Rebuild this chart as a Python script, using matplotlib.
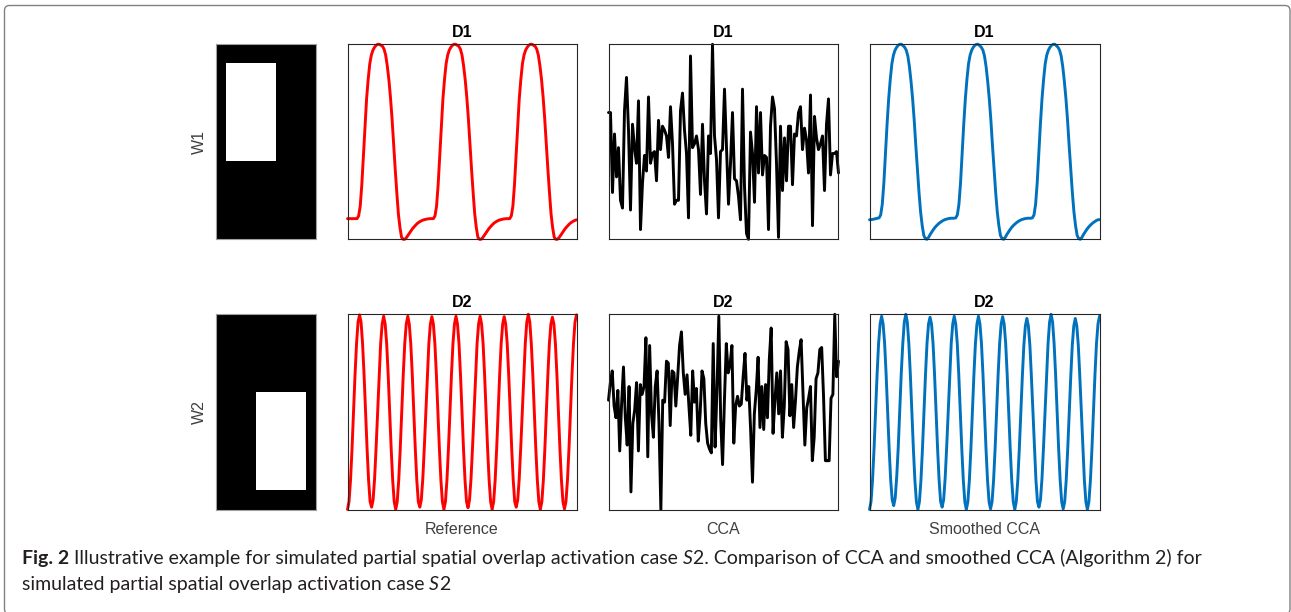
import numpy as np
import matplotlib
matplotlib.use("Agg")
import matplotlib.pyplot as plt
from matplotlib.patches import FancyBboxPatch
from matplotlib.transforms import IdentityTransform

# ---------------- data ----------------
row_titles = ["D1", "D2"]
map_labels = ["W1", "W2"]
col_labels = ["Reference", "CCA", "Smoothed CCA"]

# spatial maps: 20 x 10 grid, active block (row start, row end, col start, col end)
map_shape = (20, 10)
w1_block = (2, 12, 1, 6)
w2_block = (8, 18, 4, 9)

d1_reference = [0.106, 0.106, 0.106, 0.106, 0.106, 0.106,
    0.106, 0.12, 0.17, 0.28, 0.43, 0.58, 0.72, 0.82, 0.90, 0.945, 0.97, 0.985, 0.995, 1.00, 1.00, 0.995,
    0.99, 0.975, 0.945, 0.89, 0.82, 0.73, 0.62, 0.49, 0.36, 0.24, 0.13, 0.06, 0.01, 0.00, 0.00, 0.008,
    0.02, 0.033, 0.045, 0.056, 0.065, 0.074, 0.082, 0.088, 0.093, 0.097, 0.100, 0.102, 0.104, 0.105, 0.106, 0.106,
    0.106, 0.12, 0.17, 0.28, 0.43, 0.58, 0.72, 0.82, 0.90, 0.945, 0.97, 0.985, 0.995, 1.00, 1.00, 0.995,
    0.99, 0.975, 0.945, 0.89, 0.82, 0.73, 0.62, 0.49, 0.36, 0.24, 0.13, 0.06, 0.01, 0.00, 0.00, 0.008,
    0.02, 0.033, 0.045, 0.056, 0.065, 0.074, 0.082, 0.088, 0.093, 0.097, 0.100, 0.102, 0.104, 0.105, 0.106, 0.106,
    0.106, 0.12, 0.17, 0.28, 0.43, 0.58, 0.72, 0.82, 0.90, 0.945, 0.97, 0.985, 0.995, 1.00, 1.00, 0.995,
    0.99, 0.975, 0.945, 0.89, 0.82, 0.73, 0.62, 0.49, 0.36, 0.24, 0.13, 0.06, 0.01, 0.00, 0.00, 0.008,
    0.02, 0.033, 0.045, 0.056, 0.065, 0.074, 0.082, 0.088, 0.093, 0.097, 0.100]

d1_smoothed = [0.100, 0.101, 0.102, 0.104, 0.106, 0.108,
    0.110, 0.125, 0.18, 0.29, 0.44, 0.59, 0.72, 0.82, 0.90, 0.945, 0.97, 0.985, 0.995, 1.00, 1.00, 0.993,
    0.985, 0.97, 0.94, 0.885, 0.81, 0.72, 0.61, 0.48, 0.36, 0.24, 0.14, 0.07, 0.02, 0.003, 0.00, 0.01,
    0.025, 0.038, 0.05, 0.061, 0.07, 0.078, 0.085, 0.091, 0.096, 0.100, 0.103, 0.105, 0.107, 0.108, 0.108, 0.108,
    0.110, 0.125, 0.18, 0.29, 0.44, 0.59, 0.72, 0.82, 0.90, 0.945, 0.97, 0.985, 0.995, 1.00, 1.00, 0.993,
    0.985, 0.97, 0.94, 0.885, 0.81, 0.72, 0.61, 0.48, 0.36, 0.24, 0.14, 0.07, 0.02, 0.003, 0.00, 0.01,
    0.025, 0.038, 0.05, 0.061, 0.07, 0.078, 0.085, 0.091, 0.096, 0.100, 0.103, 0.105, 0.107, 0.108, 0.108, 0.108,
    0.110, 0.125, 0.18, 0.29, 0.44, 0.59, 0.72, 0.82, 0.90, 0.945, 0.97, 0.985, 0.995, 1.00, 1.00, 0.993,
    0.985, 0.97, 0.94, 0.885, 0.81, 0.72, 0.61, 0.48, 0.36, 0.24, 0.14, 0.07, 0.02, 0.003, 0.00, 0.01,
    0.025, 0.038, 0.05, 0.061, 0.07, 0.078, 0.085, 0.091, 0.096, 0.100, 0.101]

d1_cca = [0.65, 0.65, 0.24, 0.54, 0.32, 0.47, 0.20, 0.16, 0.66, 0.83,
    0.56, 0.15, 0.59, 0.47, 0.39, 0.71, 0.05, 0.29, 0.43, 0.35,
    0.73, 0.39, 0.44, 0.45, 0.30, 0.61, 0.46, 0.58, 0.56, 0.53,
    0.42, 0.68, 0.49, 0.18, 0.20, 0.20, 0.66, 0.75, 0.56, 0.44,
    0.11, 0.94, 0.47, 0.49, 0.53, 0.46, 0.23, 0.59, 0.30, 0.13,
    0.53, 0.44, 1.00, 0.53, 0.41, 0.11, 0.45, 0.46, 0.77, 0.47,
    0.18, 0.39, 0.65, 0.31, 0.30, 0.22, 0.10, 0.77, 0.27, 0.03,
    0.00, 0.55, 0.44, 0.19, 0.68, 0.34, 0.65, 0.33, 0.43, 0.42,
    0.05, 0.58, 0.73, 0.67, 0.39, 0.01, 0.58, 0.25, 0.52, 0.30,
    0.58, 0.58, 0.28, 0.54, 0.53, 0.65, 0.68, 0.46, 0.57, 0.51,
    0.34, 0.74, 0.07, 0.63, 0.52, 0.46, 0.49, 0.53, 0.25, 0.59,
    0.72, 0.33, 0.44, 0.44, 0.45, 0.34]

d2_reference = [
    0.000, 0.04, 0.15, 0.31, 0.50, 0.69, 0.85, 0.96, 0.997, 0.96, 0.85, 0.69, 0.50, 0.31, 0.15, 0.04,
    0.012, 0.05, 0.16, 0.32, 0.50, 0.69, 0.85, 0.95, 0.990, 0.95, 0.85, 0.69, 0.50, 0.31, 0.15, 0.04,
    0.000, 0.04, 0.15, 0.31, 0.50, 0.69, 0.85, 0.95, 0.990, 0.95, 0.85, 0.69, 0.50, 0.31, 0.15, 0.04,
    0.012, 0.05, 0.16, 0.32, 0.50, 0.69, 0.85, 0.95, 0.988, 0.95, 0.85, 0.69, 0.50, 0.31, 0.15, 0.04,
    0.000, 0.04, 0.15, 0.31, 0.50, 0.69, 0.85, 0.95, 0.990, 0.95, 0.85, 0.69, 0.50, 0.31, 0.15, 0.04,
    0.009, 0.05, 0.16, 0.32, 0.50, 0.69, 0.85, 0.95, 0.990, 0.95, 0.85, 0.69, 0.50, 0.31, 0.15, 0.04,
    0.000, 0.04, 0.15, 0.31, 0.50, 0.69, 0.85, 0.95, 0.988, 0.95, 0.85, 0.69, 0.50, 0.31, 0.15, 0.04,
    0.012, 0.05, 0.16, 0.32, 0.50, 0.69, 0.85, 0.96, 1.000, 0.96, 0.85, 0.69, 0.50, 0.31, 0.15, 0.04,
    0.000, 0.04, 0.15, 0.31, 0.50, 0.69, 0.85, 0.95, 0.985, 0.95, 0.85, 0.69, 0.50, 0.31, 0.15, 0.04,
    0.003, 0.04, 0.15, 0.31, 0.50, 0.69, 0.85, 0.96, 0.997]

d2_smoothed = [
    0.000, 0.04, 0.15, 0.31, 0.50, 0.69, 0.85, 0.95, 0.990, 0.95, 0.85, 0.69, 0.50, 0.31, 0.15, 0.05,
    0.020, 0.06, 0.17, 0.32, 0.51, 0.70, 0.85, 0.96, 1.000, 0.96, 0.85, 0.69, 0.50, 0.31, 0.15, 0.04,
    0.000, 0.04, 0.15, 0.31, 0.50, 0.69, 0.85, 0.95, 0.985, 0.95, 0.85, 0.69, 0.50, 0.31, 0.15, 0.04,
    0.012, 0.05, 0.16, 0.32, 0.50, 0.69, 0.85, 0.95, 0.990, 0.95, 0.85, 0.69, 0.50, 0.31, 0.15, 0.04,
    0.000, 0.04, 0.15, 0.31, 0.50, 0.69, 0.85, 0.95, 0.990, 0.95, 0.85, 0.69, 0.50, 0.31, 0.15, 0.04,
    0.003, 0.04, 0.15, 0.31, 0.50, 0.69, 0.85, 0.95, 0.988, 0.95, 0.85, 0.69, 0.50, 0.31, 0.15, 0.04,
    0.000, 0.04, 0.15, 0.31, 0.50, 0.68, 0.84, 0.94, 0.979, 0.94, 0.84, 0.68, 0.50, 0.31, 0.15, 0.04,
    0.012, 0.05, 0.16, 0.32, 0.50, 0.69, 0.85, 0.96, 1.000, 0.96, 0.85, 0.69, 0.50, 0.31, 0.15, 0.04,
    0.003, 0.04, 0.15, 0.31, 0.50, 0.68, 0.84, 0.94, 0.979, 0.94, 0.84, 0.68, 0.50, 0.31, 0.15, 0.04,
    0.000, 0.04, 0.15, 0.31, 0.50, 0.69, 0.85, 0.95, 0.990]

d2_cca = [0.56, 0.65, 0.71, 0.53, 0.47, 0.61, 0.30, 0.54, 0.73, 0.47,
    0.33, 0.63, 0.09, 0.44, 0.51, 0.65, 0.30, 0.64, 0.59, 0.63,
    0.88, 0.27, 0.84, 0.49, 0.37, 0.63, 0.71, 0.44, 0.00, 0.56,
    0.55, 0.76, 0.75, 0.43, 0.71, 0.70, 0.53, 0.68, 0.84, 0.91,
    0.70, 0.59, 0.69, 0.53, 0.38, 0.71, 0.55, 0.62, 0.35, 0.49,
    0.71, 0.67, 0.44, 0.34, 0.31, 0.29, 0.85, 0.32, 0.61, 0.99,
    0.46, 0.23, 0.56, 0.85, 0.70, 0.74, 0.84, 0.34, 0.53, 0.58,
    0.53, 0.54, 0.68, 0.80, 0.56, 0.63, 0.41, 0.14, 0.49, 0.61,
    0.78, 0.42, 0.63, 0.41, 0.64, 0.47, 0.77, 0.93, 0.39, 0.56,
    0.70, 0.49, 0.71, 0.37, 0.53, 0.86, 0.82, 0.48, 0.64, 0.42,
    0.56, 0.73, 0.81, 0.87, 0.60, 0.33, 0.52, 0.57, 0.63, 0.25,
    0.37, 0.67, 0.70, 0.82, 0.83, 0.58, 0.25, 0.25, 0.25, 0.57,
    0.59, 1.00, 0.68, 0.76]

series = [[d1_reference, d1_cca, d1_smoothed],
          [d2_reference, d2_cca, d2_smoothed]]
colors = ["#ff0000", "#000000", "#0072bd"]

# caption runs: (text, weight, style, space before)
caption_line1 = [("Fig. 2", "bold", "normal", False),
                 ("Illustrative example for simulated partial spatial overlap activation case", "normal", "normal", True),
                 ("S", "normal", "italic", True),
                 ("2. Comparison of CCA and smoothed CCA (Algorithm 2) for", "normal", "normal", False)]
caption_line2 = [("simulated partial spatial overlap activation case", "normal", "normal", False),
                 ("S", "normal", "italic", True),
                 ("2", "normal", "normal", False)]

# ---------------- layout ----------------
W, H = 1291, 612
fig = plt.figure(figsize=(W / 100, H / 100), dpi=100)
fig.patch.set_facecolor("white")

def add_ax(x0, y0, x1, y1):
    return fig.add_axes([x0 / W, 1 - y1 / H, (x1 - x0) / W, (y1 - y0) / H])

row_y = [(44.3, 239.3), (314.3, 509.5)]
col_x = [(347.5, 576.5), (608.5, 838.5), (869.5, 1099.5)]
map_x = (215.7, 315.5)
blocks = [w1_block, w2_block]

for r in range(2):
    y0, y1 = row_y[r]
    axm = add_ax(map_x[0], y0, map_x[1], y1)
    img = np.zeros(map_shape)
    rs, re, cs, ce = blocks[r]
    img[rs:re, cs:ce] = 1
    axm.imshow(img, cmap="gray", vmin=0, vmax=1, aspect="auto", interpolation="nearest")
    axm.set_xticks([]); axm.set_yticks([])
    for s in axm.spines.values():
        s.set_color("#a0a0a0"); s.set_linewidth(0.8)
    fig.text(199.5 / W, 1 - ((y0 + y1) / 2) / H, map_labels[r], rotation=90,
             ha="center", va="center", fontsize=11.5, color="#404040",
             family="Liberation Sans")
    for c in range(3):
        ax = add_ax(col_x[c][0], y0, col_x[c][1], y1)
        v = np.array(series[r][c])
        t = np.arange(len(v))
        ax.plot(t, v, color=colors[c], lw=2.1, clip_on=False,
                solid_joinstyle="round", solid_capstyle="round")
        ax.set_xlim(t[0], t[-1])
        ax.set_ylim(v.min(), v.max())
        ax.set_xticks([]); ax.set_yticks([])
        for s in ax.spines.values():
            s.set_color("#262626"); s.set_linewidth(0.8)
        ax.set_title(row_titles[r], fontsize=11.5, fontweight="bold",
                     family="Liberation Sans", pad=5)
        if r == 1:
            fig.text(((col_x[c][0] + col_x[c][1]) / 2) / W, 1 - 534.3 / H, col_labels[c],
                     ha="center", va="baseline", fontsize=11.5, color="#404040",
                     family="Liberation Sans")

# ---------------- caption ----------------
renderer = fig.canvas.get_renderer()
cap_kw = dict(family="Lato", fontsize=14.0, color="#231f20")

def text_width(s, **kw):
    t = fig.text(0, 0, s, **kw)
    w = t.get_window_extent(renderer).width
    t.remove()
    return w

space_w = text_width("a a", **cap_kw) - text_width("aa", **cap_kw)

def draw_line(x, y, runs):
    for i, (txt, weight, style, space_before) in enumerate(runs):
        if i > 0 and space_before:
            x += space_w
        t = fig.text(x / W, 1 - y / H, txt, ha="left", va="baseline",
                     fontweight=weight, fontstyle=style, **cap_kw)
        x += t.get_window_extent(renderer).width

draw_line(21.7, 564.3, caption_line1)
draw_line(21.7, 590.0, caption_line2)

# ---------------- frame ----------------
frame = FancyBboxPatch((4.5, -2), 1290 - 4.5, 612 - 5.5 + 2,
                       boxstyle="round,pad=0,rounding_size=5",
                       transform=IdentityTransform(), fill=False,
                       ec="#808080", lw=1.0)
fig.add_artist(frame)

fig.savefig("out.png", dpi=100)
